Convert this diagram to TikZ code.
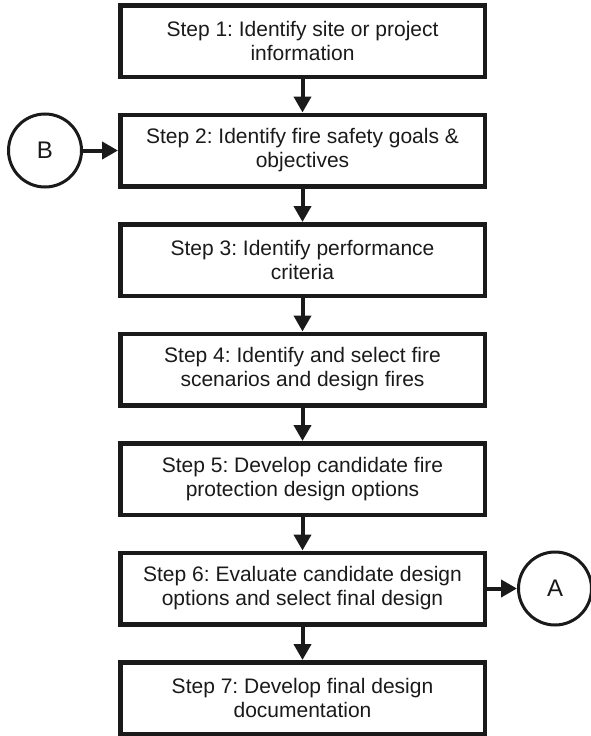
\documentclass[tikz,border=0pt]{standalone}
\usepackage{fontspec}
\setmainfont{Liberation Sans}
\usetikzlibrary{arrows.meta}
\definecolor{ink}{HTML}{1A1A1A}
\begin{document}
\frenchspacing
\begin{tikzpicture}[x=1pt,y=-1pt,
  stepbox/.style={draw=ink, text=ink, line width=4.5pt, minimum width=364.5pt,
    minimum height=71.5pt, align=center, inner sep=0pt,
    font=\fontsize{21}{24}\selectfont},
  connector/.style={draw=ink, text=ink, line width=3pt, circle, minimum size=73pt,
    inner sep=0pt, font=\fontsize{24}{26}\selectfont},
  flow/.style={draw=ink, line width=4pt, -{Triangle[width=17pt,length=16pt]}}]
\useasboundingbox (0,0) rectangle (590,736);

% process steps, top to bottom
\node[stepbox] (s1) at (302.5,41)    {Step 1: Identify site or project\\information};
\node[stepbox] (s2) at (302.5,150.5) {Step 2: Identify fire safety goals \&\\objectives};
\node[stepbox] (s3) at (302.5,260)   {Step 3: Identify performance\\criteria};
\node[stepbox] (s4) at (302.5,369.5) {Step 4: Identify and select fire\\scenarios and design fires};
\node[stepbox] (s5) at (302.5,479)   {Step 5: Develop candidate fire\\protection design options};
\node[stepbox] (s6) at (302.5,588.5) {Step 6: Evaluate candidate design\\options and select final design};
\node[stepbox] (s7) at (302.5,698)   {Step 7: Develop final design\\documentation};

% off-page connectors
\node[connector] (B) at (45,150.5) {B};
\node[connector] (A) at (555,588.5) {A};

% flow arrows
\draw[flow] (s1) -- (s2);
\draw[flow] (s2) -- (s3);
\draw[flow] (s3) -- (s4);
\draw[flow] (s4) -- (s5);
\draw[flow] (s5) -- (s6);
\draw[flow] (s6) -- (s7);
\draw[flow] (B) -- (s2);
\draw[flow] (s6) -- (A);
\end{tikzpicture}
\end{document}
